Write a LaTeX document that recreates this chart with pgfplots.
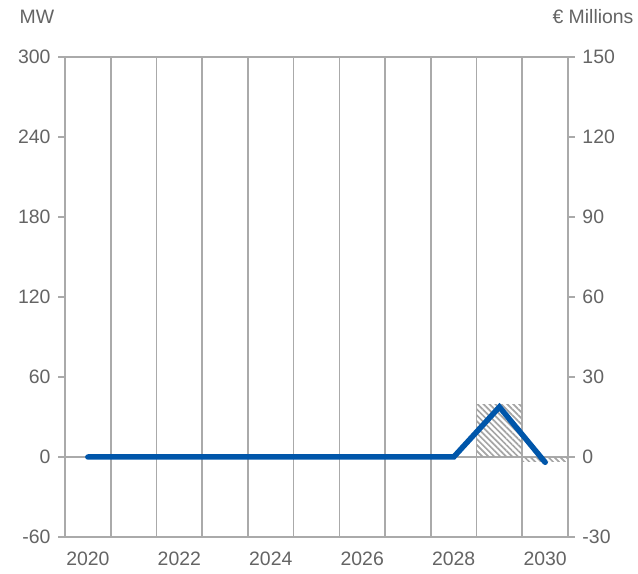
\documentclass[border=0pt]{standalone}
\usepackage{pgfplots}
\pgfplotsset{compat=1.18}
\usepackage{fontspec}
\setmainfont{Liberation Sans}
\usetikzlibrary{patterns.meta}
\definecolor{gridgray}{RGB}{170,170,170}
\definecolor{txtgray}{RGB}{100,100,100}
\definecolor{lineblue}{RGB}{0,86,170}
\definecolor{hatchgray}{RGB}{165,165,165}
\begin{document}
\begin{tikzpicture}
\path[use as bounding box] (0,0) rectangle (638bp,574bp);
\pgfplotsset{
  base/.style={
    at={(65bp,37bp)}, anchor=south west,
    scale only axis, width=503bp, height=480bp,
    xmin=2019.5, xmax=2030.5,
    /pgf/number format/assume math mode=true,
    /pgf/number format/1000 sep={},
    tick label style={font=\fontsize{19.5}{23}\selectfont, text=txtgray},
    axis line style={gridgray, line width=1.6bp},
    tick style={gridgray, line width=1.6bp},
    tick align=outside,
    major tick length=7bp,
  }
}
% right axis: EUR millions (frame, grid, bars)
\begin{axis}[base,
  ymin=-30, ymax=150, ytick={-30,0,30,60,90,120,150},
  ytick pos=right,
  yticklabel style={xshift=4bp},
  xtick={2020,2022,2024,2026,2028,2030},
  xtick pos=bottom,
  x tick style={draw=none},
  xticklabel style={yshift=-4bp},
  minor xtick={2020.5,2021.5,2022.5,2023.5,2024.5,2025.5,2026.5,2027.5,2028.5,2029.5},
  minor tick length=0pt,
  xminorgrids=true,
  minor x grid style={gridgray, line width=1.6bp},
  extra y ticks={0}, extra y tick labels={},
  extra y tick style={ymajorgrids=true, major tick length=0pt, major grid style={gridgray, line width=1.6bp}},
]
\addplot[ybar, bar width=1, draw=none, pattern={Lines[angle=-45,distance=4.2bp,line width=1.7bp]}, pattern color=hatchgray]
  coordinates {(2029,19.8) (2030,-1.8)};
\end{axis}
% left axis: MW (line)
\begin{axis}[base,
  ymin=-60, ymax=300, ytick={-60,0,60,120,180,240,300},
  axis y line*=left,
  yticklabel style={xshift=-4bp},
  hide x axis,
]
\addplot[lineblue, line width=5.5bp, line cap=round, line join=miter]
  coordinates {(2020,0) (2021,0) (2022,0) (2023,0) (2024,0) (2025,0) (2026,0) (2027,0) (2028,0) (2029,37.5) (2030,-4)};
\end{axis}
\node[anchor=center, text=txtgray, font=\fontsize{19.5}{23}\selectfont] at (37bp,557bp) {MW};
\node[anchor=east, text=txtgray, font=\fontsize{19.5}{23}\selectfont] at (637bp,557bp) {€ Millions};
\end{tikzpicture}
\end{document}
